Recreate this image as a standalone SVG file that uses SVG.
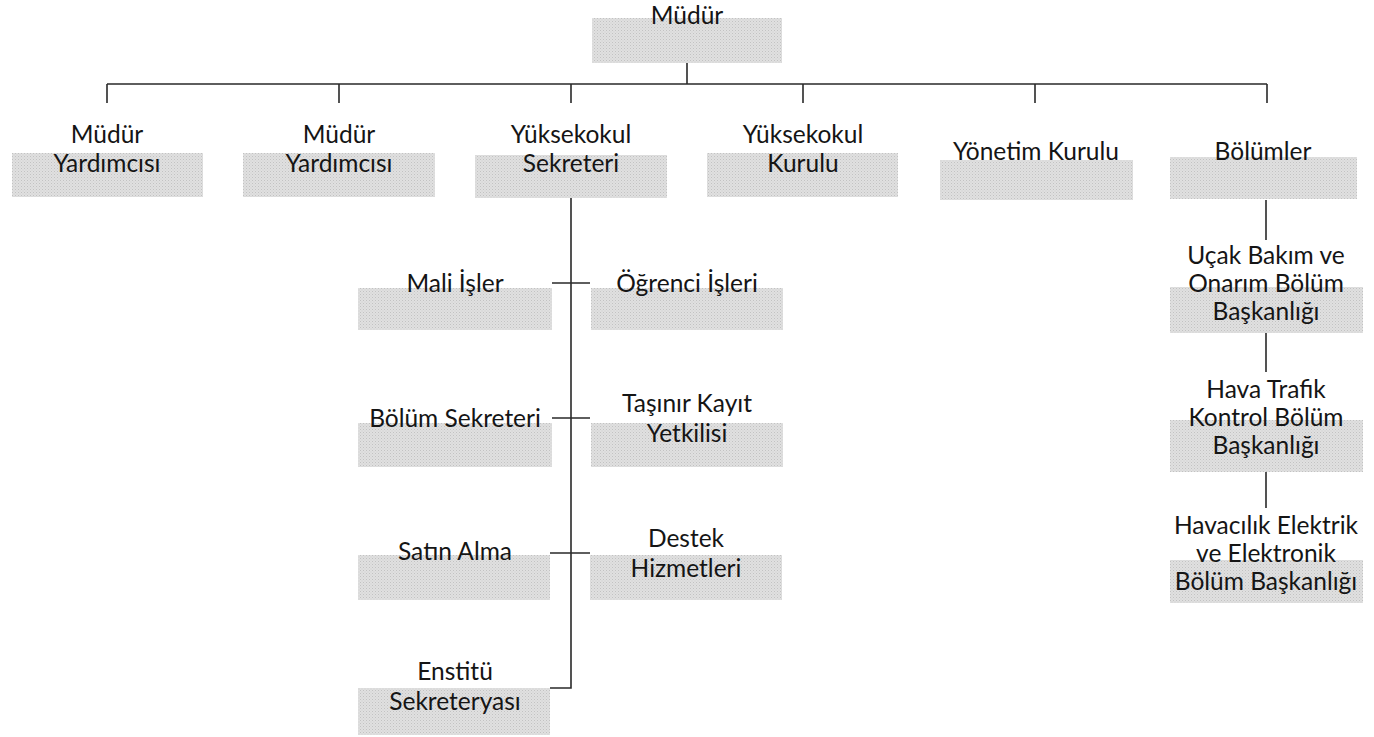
<svg xmlns="http://www.w3.org/2000/svg" width="1374" height="737" viewBox="0 0 1374 737">
<defs>
<pattern id="dots" width="3" height="3" patternUnits="userSpaceOnUse">
<rect width="3" height="3" fill="#e0e0e0"/>
<rect x="0" y="0" width="1" height="1" fill="#c2c2c2"/>
<rect x="1.5" y="1.5" width="1" height="1" fill="#cdcdcd"/>
</pattern>
<style>
.box{fill:url(#dots);}
.t{font-family:Lato,"Open Sans",sans-serif;font-size:24.5px;fill:#151515;text-anchor:middle;}
.c{stroke:#2a2a2a;stroke-width:1.6;fill:none;}
</style>
</defs>
<rect width="1374" height="737" fill="#ffffff"/>
<g id="connectors">
<path class="c" d="M687 63V84M107 84H1267M107 84V103M339 84V103M571 84V103M803 84V103M1035 84V103M1267 84V103"/>
<path class="c" d="M571 198V688H550M552 283H590M552 418H590M550 553H590"/>
<path class="c" d="M1266 200V240M1266 333V372M1266 472V508"/>
</g>
<g id="mudur"><rect class="box" x="592" y="18" width="190" height="45"/><text class="t" x="687" y="24">Müdür</text></g>
<g id="mudur-yard-1"><rect class="box" x="12" y="153" width="191" height="44"/><text class="t" x="107" y="143">Müdür</text><text class="t" x="107" y="172">Yardımcısı</text></g>
<g id="mudur-yard-2"><rect class="box" x="243" y="153" width="192" height="44"/><text class="t" x="339" y="143">Müdür</text><text class="t" x="339" y="172">Yardımcısı</text></g>
<g id="yuksekokul-sekreteri"><rect class="box" x="475" y="155" width="192" height="43"/><text class="t" x="571" y="143">Yüksekokul</text><text class="t" x="571" y="172">Sekreteri</text></g>
<g id="yuksekokul-kurulu"><rect class="box" x="707" y="153" width="191" height="44"/><text class="t" x="803" y="143">Yüksekokul</text><text class="t" x="803" y="172">Kurulu</text></g>
<g id="yonetim-kurulu"><rect class="box" x="940" y="160" width="193" height="40"/><text class="t" x="1036" y="160">Yönetim Kurulu</text></g>
<g id="bolumler"><rect class="box" x="1170" y="157" width="187" height="42"/><text class="t" x="1263" y="160">Bölümler</text></g>
<g id="mali-isler"><rect class="box" x="358" y="288" width="194" height="42"/><text class="t" x="455" y="292">Mali İşler</text></g>
<g id="ogrenci-isleri"><rect class="box" x="591" y="288" width="192" height="42"/><text class="t" x="687" y="292">Öğrenci İşleri</text></g>
<g id="bolum-sekreteri"><rect class="box" x="358" y="423" width="194" height="44"/><text class="t" x="455" y="427">Bölüm Sekreteri</text></g>
<g id="tasinir-kayit"><rect class="box" x="591" y="423" width="192" height="44"/><text class="t" x="687" y="412">Taşınır Kayıt</text><text class="t" x="687" y="442">Yetkilisi</text></g>
<g id="satin-alma"><rect class="box" x="358" y="555" width="192" height="45"/><text class="t" x="455" y="560">Satın Alma</text></g>
<g id="destek-hizmetleri"><rect class="box" x="590" y="555" width="192" height="45"/><text class="t" x="686" y="547">Destek</text><text class="t" x="686" y="577">Hizmetleri</text></g>
<g id="enstitu-sekreteryasi"><rect class="box" x="358" y="688" width="192" height="47"/><text class="t" x="455" y="680">Enstitü</text><text class="t" x="455" y="710">Sekreteryası</text></g>
<g id="ucak-bakim"><rect class="box" x="1170" y="287" width="193" height="46"/><text class="t" x="1266" y="264">Uçak Bakım ve</text><text class="t" x="1266" y="292">Onarım Bölüm</text><text class="t" x="1266" y="320">Başkanlığı</text></g>
<g id="hava-trafik"><rect class="box" x="1170" y="420" width="193" height="52"/><text class="t" x="1266" y="398">Hava Trafik</text><text class="t" x="1266" y="426">Kontrol Bölüm</text><text class="t" x="1266" y="454">Başkanlığı</text></g>
<g id="havacilik-elektrik"><rect class="box" x="1170" y="560" width="193" height="43"/><text class="t" x="1266" y="534">Havacılık Elektrik</text><text class="t" x="1266" y="562">ve Elektronik</text><text class="t" x="1266" y="590">Bölüm Başkanlığı</text></g>
</svg>
